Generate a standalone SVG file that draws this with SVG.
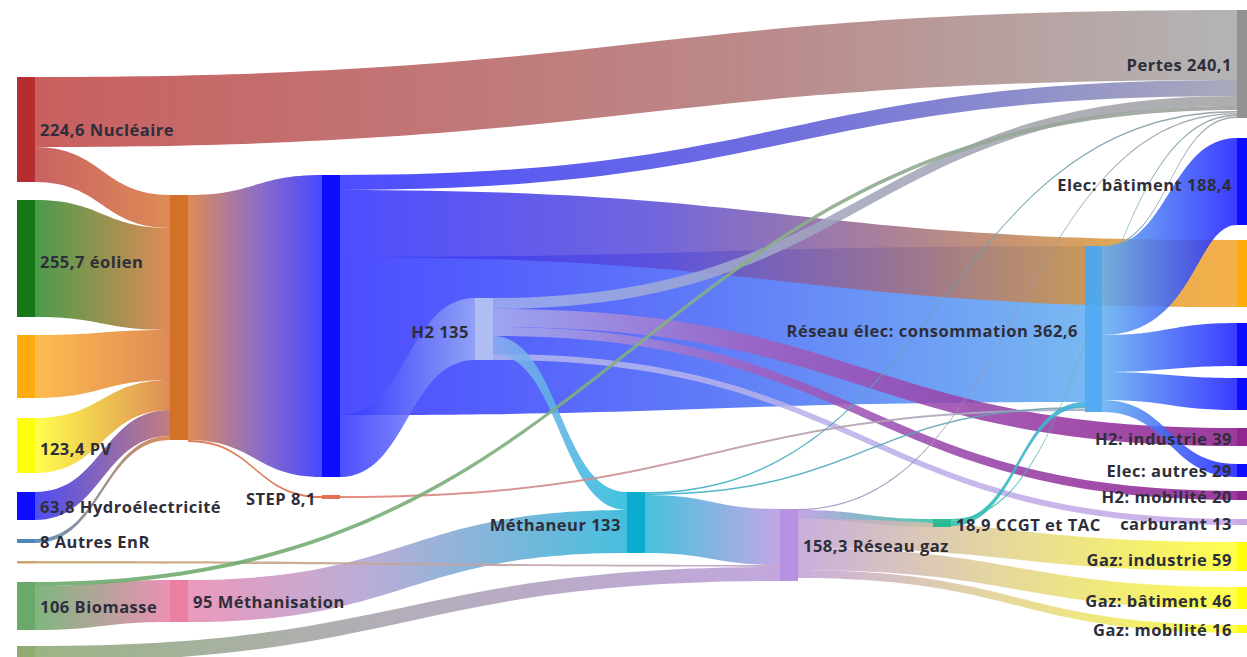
<svg xmlns="http://www.w3.org/2000/svg" width="1247" height="657" viewBox="0 0 1247 657">
<style>
.lk{fill-opacity:0.86}
.th{fill-opacity:0.9}
.nd{opacity:0.95}
.lbl{font-family:"Open Sans","Liberation Sans",sans-serif;font-weight:700;font-size:16.5px;letter-spacing:0.5px;fill:#2e2e3a}
.end{text-anchor:end}
</style>
<defs>
<linearGradient id="g1" gradientUnits="userSpaceOnUse" x1="35" y1="0" x2="1237" y2="0"><stop offset="0" stop-color="#c04545"/><stop offset="0.6" stop-color="#b07676"/><stop offset="1" stop-color="#a8a8a8"/></linearGradient>
<linearGradient id="g2" gradientUnits="userSpaceOnUse" x1="35" y1="0" x2="170" y2="0"><stop offset="0" stop-color="#c04848"/><stop offset="1" stop-color="#d8783a"/></linearGradient>
<linearGradient id="g3" gradientUnits="userSpaceOnUse" x1="35" y1="0" x2="170" y2="0"><stop offset="0" stop-color="#2e8a2e"/><stop offset="1" stop-color="#d8783a"/></linearGradient>
<linearGradient id="g4" gradientUnits="userSpaceOnUse" x1="35" y1="0" x2="170" y2="0"><stop offset="0" stop-color="#ffb030"/><stop offset="1" stop-color="#d8783a"/></linearGradient>
<linearGradient id="g5" gradientUnits="userSpaceOnUse" x1="35" y1="0" x2="170" y2="0"><stop offset="0" stop-color="#ffff30"/><stop offset="1" stop-color="#d8783a"/></linearGradient>
<linearGradient id="g6" gradientUnits="userSpaceOnUse" x1="35" y1="0" x2="170" y2="0"><stop offset="0" stop-color="#3030f0"/><stop offset="1" stop-color="#b86868"/></linearGradient>
<linearGradient id="g7" gradientUnits="userSpaceOnUse" x1="35" y1="0" x2="170" y2="0"><stop offset="0" stop-color="#4682b4"/><stop offset="1" stop-color="#d8783a"/></linearGradient>
<linearGradient id="g8" gradientUnits="userSpaceOnUse" x1="188" y1="0" x2="322" y2="0"><stop offset="0" stop-color="#d87838"/><stop offset="0.5" stop-color="#8058b8"/><stop offset="1" stop-color="#2a2aff"/></linearGradient>
<linearGradient id="g9" gradientUnits="userSpaceOnUse" x1="340" y1="0" x2="1085" y2="0"><stop offset="0" stop-color="#2f2fff"/><stop offset="0.5" stop-color="#4666f6"/><stop offset="1" stop-color="#62acf0"/></linearGradient>
<linearGradient id="g10" gradientUnits="userSpaceOnUse" x1="340" y1="0" x2="1237" y2="0"><stop offset="0" stop-color="#3030ff"/><stop offset="0.35" stop-color="#5a4cd8"/><stop offset="0.6" stop-color="#9a6a8a"/><stop offset="0.85" stop-color="#d8963e"/><stop offset="1" stop-color="#f5a52a"/></linearGradient>
<linearGradient id="g11" gradientUnits="userSpaceOnUse" x1="340" y1="0" x2="1237" y2="0"><stop offset="0" stop-color="#3030ff"/><stop offset="0.5" stop-color="#5858d8"/><stop offset="1" stop-color="#9c9cb0"/></linearGradient>
<linearGradient id="g12" gradientUnits="userSpaceOnUse" x1="340" y1="0" x2="475" y2="0"><stop offset="0" stop-color="#3030ff"/><stop offset="1" stop-color="#9aacf4"/></linearGradient>
<linearGradient id="g13" gradientUnits="userSpaceOnUse" x1="493" y1="0" x2="1237" y2="0"><stop offset="0" stop-color="#a0b0f0"/><stop offset="0.5" stop-color="#a0a4b8"/><stop offset="1" stop-color="#a0a0a0"/></linearGradient>
<linearGradient id="g14" gradientUnits="userSpaceOnUse" x1="493" y1="0" x2="1237" y2="0"><stop offset="0" stop-color="#a8b0f0"/><stop offset="0.35" stop-color="#a060c0"/><stop offset="1" stop-color="#8b1a8b"/></linearGradient>
<linearGradient id="g16" gradientUnits="userSpaceOnUse" x1="493" y1="0" x2="627" y2="0"><stop offset="0" stop-color="#90b0f0"/><stop offset="1" stop-color="#20b8d8"/></linearGradient>
<linearGradient id="g17" gradientUnits="userSpaceOnUse" x1="493" y1="0" x2="1237" y2="0"><stop offset="0" stop-color="#b0b8f0"/><stop offset="1" stop-color="#c4a4e4"/></linearGradient>
<linearGradient id="g18" gradientUnits="userSpaceOnUse" x1="35" y1="0" x2="170" y2="0"><stop offset="0" stop-color="#6aaa6a"/><stop offset="1" stop-color="#e87ea8"/></linearGradient>
<linearGradient id="g19" gradientUnits="userSpaceOnUse" x1="35" y1="0" x2="1237" y2="0"><stop offset="0" stop-color="#6aaa6a"/><stop offset="0.6" stop-color="#88b088"/><stop offset="1" stop-color="#a0a0a0"/></linearGradient>
<linearGradient id="g20" gradientUnits="userSpaceOnUse" x1="188" y1="0" x2="627" y2="0"><stop offset="0" stop-color="#e888b0"/><stop offset="0.4" stop-color="#b0a0d0"/><stop offset="1" stop-color="#28b4d8"/></linearGradient>
<linearGradient id="g21" gradientUnits="userSpaceOnUse" x1="35" y1="0" x2="780" y2="0"><stop offset="0" stop-color="#8aa870"/><stop offset="0.5" stop-color="#a8a0b0"/><stop offset="1" stop-color="#b898d8"/></linearGradient>
<linearGradient id="g22" gradientUnits="userSpaceOnUse" x1="35" y1="0" x2="780" y2="0"><stop offset="0" stop-color="#c8a870"/><stop offset="1" stop-color="#c0a0c8"/></linearGradient>
<linearGradient id="g23" gradientUnits="userSpaceOnUse" x1="188" y1="0" x2="340" y2="0"><stop offset="0" stop-color="#d87040"/><stop offset="1" stop-color="#e07050"/></linearGradient>
<linearGradient id="g24" gradientUnits="userSpaceOnUse" x1="340" y1="0" x2="1085" y2="0"><stop offset="0" stop-color="#e08070"/><stop offset="1" stop-color="#a0b0d0"/></linearGradient>
<linearGradient id="g25" gradientUnits="userSpaceOnUse" x1="645" y1="0" x2="780" y2="0"><stop offset="0" stop-color="#28b8d8"/><stop offset="1" stop-color="#b898e0"/></linearGradient>
<linearGradient id="g26" gradientUnits="userSpaceOnUse" x1="645" y1="0" x2="1237" y2="0"><stop offset="0" stop-color="#30b0c8"/><stop offset="1" stop-color="#909aa0"/></linearGradient>
<linearGradient id="g28" gradientUnits="userSpaceOnUse" x1="797" y1="0" x2="1237" y2="0"><stop offset="0" stop-color="#a090c0"/><stop offset="1" stop-color="#999999"/></linearGradient>
<linearGradient id="g29" gradientUnits="userSpaceOnUse" x1="797" y1="0" x2="933" y2="0"><stop offset="0" stop-color="#b898e0"/><stop offset="1" stop-color="#30c0a0"/></linearGradient>
<linearGradient id="g30" gradientUnits="userSpaceOnUse" x1="797" y1="0" x2="1237" y2="0"><stop offset="0" stop-color="#c0a0d8"/><stop offset="0.45" stop-color="#e0d090"/><stop offset="1" stop-color="#ffff30"/></linearGradient>
<linearGradient id="g33" gradientUnits="userSpaceOnUse" x1="951" y1="0" x2="1237" y2="0"><stop offset="0" stop-color="#30c0a8"/><stop offset="1" stop-color="#909aa0"/></linearGradient>
<linearGradient id="g34" gradientUnits="userSpaceOnUse" x1="951" y1="0" x2="1085" y2="0"><stop offset="0" stop-color="#30c0a8"/><stop offset="1" stop-color="#40b0e0"/></linearGradient>
<linearGradient id="g35" gradientUnits="userSpaceOnUse" x1="1102" y1="0" x2="1237" y2="0"><stop offset="0" stop-color="#70a8d0"/><stop offset="1" stop-color="#999999"/></linearGradient>
<linearGradient id="g36" gradientUnits="userSpaceOnUse" x1="1102" y1="0" x2="1237" y2="0"><stop offset="0" stop-color="#62b0f0"/><stop offset="1" stop-color="#1c1cff"/></linearGradient>
</defs>

<g id="connectors">
<path class="lk" fill="url(#g1)" d="M35 77 C636 77 636 10 1237 10 L1237 80 C636 80 636 147 35 147 Z"/>
<path class="lk" fill="url(#g2)" d="M35 147 C102.5 147 102.5 195 170 195 L170 228 C102.5 228 102.5 182 35 182 Z"/>
<path class="lk" fill="url(#g3)" d="M35 200 C102.5 200 102.5 228 170 228 L170 330 C102.5 330 102.5 317 35 317 Z"/>
<path class="lk" fill="url(#g4)" d="M35 335 C102.5 335 102.5 330 170 330 L170 380 C102.5 380 102.5 398 35 398 Z"/>
<path class="lk" fill="url(#g5)" d="M35 418 C102.5 418 102.5 380 170 380 L170 410 C102.5 410 102.5 473 35 473 Z"/>
<path class="lk" fill="url(#g6)" d="M35 492 C102.5 492 102.5 410 170 410 L170 436 C102.5 436 102.5 520 35 520 Z"/>
<path class="lk" fill="url(#g7)" d="M35 539 C102.5 539 102.5 436 170 436 L170 440 C102.5 440 102.5 543 35 543 Z"/>
<path class="lk" fill="url(#g8)" d="M188 195 C255 195 255 175 322 175 L322 477 C255 477 255 440 188 440 Z"/>
<path class="lk" fill="url(#g9)" d="M340 257 C712.5 257 712.5 246 1085 246 L1085 402 C712.5 402 712.5 415 340 415 Z"/>
<path class="lk" fill="url(#g10)" d="M340 190 C788.5 190 788.5 240 1237 240 L1237 307 C788.5 307 788.5 257 340 257 Z"/>
<path class="lk" fill="url(#g11)" d="M340 175 C788.5 175 788.5 80 1237 80 L1237 96 C788.5 96 788.5 190 340 190 Z"/>
<path class="lk" fill="url(#g12)" d="M340 415 C407.5 415 407.5 298 475 298 L475 360 C407.5 360 407.5 477 340 477 Z"/>
<path class="lk" fill="url(#g13)" d="M493 298 C865 298 865 96 1237 96 L1237 106 C865 106 865 309 493 309 Z"/>
<path class="lk" fill="url(#g14)" d="M493 309 C865 309 865 428 1237 428 L1237 446 C865 446 865 327 493 327 Z"/>
<path class="lk" fill="url(#g14)" d="M493 327 C865 327 865 491 1237 491 L1237 500 C865 500 865 336 493 336 Z"/>
<path class="lk" fill="url(#g17)" d="M493 354 C865 354 865 519 1237 519 L1237 525 C865 525 865 360 493 360 Z"/>
<path class="lk" fill="url(#g16)" d="M493 336 C560 336 560 492 627 492 L627 510 C560 510 560 354 493 354 Z"/>
<path class="lk" fill="url(#g18)" d="M35 586 C102.5 586 102.5 580 170 580 L170 622 C102.5 622 102.5 630 35 630 Z"/>
<path class="lk" fill="url(#g20)" d="M188 580 C407.5 580 407.5 510 627 510 L627 553 C407.5 553 407.5 622 188 622 Z"/>
<path class="lk" fill="url(#g21)" d="M35 646 C407.5 646 407.5 567 780 567 L780 581 C407.5 581 407.5 662 35 662 Z"/>
<path class="th" fill="url(#g22)" d="M35 561 C407.5 561 407.5 565 780 565 L780 567 C407.5 567 407.5 563.5 35 563.5 Z"/>
<path class="lk" fill="url(#g25)" d="M645 495 C712.5 495 712.5 509 780 509 L780 565 C712.5 565 712.5 553 645 553 Z"/>
<path class="lk" fill="url(#g29)" d="M797 510 C865 510 865 519 933 519 L933 527 C865 527 865 519 797 519 Z"/>
<path class="lk" fill="url(#g30)" d="M797 519 C1017 519 1017 542 1237 542 L1237 571 C1017 571 1017 548 797 548 Z"/>
<path class="lk" fill="url(#g30)" d="M797 548 C1017 548 1017 587 1237 587 L1237 609 C1017 609 1017 570 797 570 Z"/>
<path class="lk" fill="url(#g30)" d="M797 570 C1017 570 1017 625 1237 625 L1237 633 C1017 633 1017 578 797 578 Z"/>
<path class="lk" fill="url(#g36)" d="M1102 247 C1169.5 247 1169.5 138 1237 138 L1237 225 C1195 225 1195 335 1102 335 Z"/>
<path class="lk" fill="url(#g36)" d="M1102 335 C1169.5 335 1169.5 323 1237 323 L1237 366 C1169.5 366 1169.5 372 1102 372 Z"/>
<path class="lk" fill="url(#g36)" d="M1102 372 C1169.5 372 1169.5 378 1237 378 L1237 410 C1169.5 410 1169.5 400 1102 400 Z"/>
<path class="lk" fill="url(#g36)" d="M1102 400 C1169.5 400 1169.5 464 1237 464 L1237 477 C1169.5 477 1169.5 412 1102 412 Z"/>
<path class="th" fill="url(#g23)" d="M188 440 C255 440 255 496 322 496 L322 498 C255 498 255 442 188 442 Z"/>
<path class="th" fill="url(#g24)" d="M340 496 C712.5 496 712.5 409 1085 409 L1085 411 C712.5 411 712.5 498 340 498 Z"/>
<path class="th" fill="url(#g19)" d="M35 582 C636 582 636 106 1237 106 L1237 110 C636 110 636 586 35 586 Z"/>
<path class="th" fill="url(#g26)" d="M645 492 C941 492 941 111 1237 111 L1237 112.5 C941 112.5 941 493.5 645 493.5 Z"/>
<path class="th" fill="url(#g26)" d="M645 493.5 C865 493.5 865 407 1085 407 L1085 408.5 C865 408.5 865 495 645 495 Z"/>
<path class="th" fill="url(#g28)" d="M797 509 C1017 509 1017 113 1237 113 L1237 114.2 C1017 114.2 1017 510.2 797 510.2 Z"/>
<path class="th" fill="url(#g33)" d="M951 519 C1094 519 1094 114.5 1237 114.5 L1237 116 C1094 116 1094 520.5 951 520.5 Z"/>
<path class="th" fill="url(#g34)" d="M951 520.5 C1018 520.5 1018 402 1085 402 L1085 407 C1018 407 1018 526 951 526 Z"/>
<path class="th" fill="url(#g35)" d="M1102 246 C1169.5 246 1169.5 116.5 1237 116.5 L1237 118 C1169.5 118 1169.5 247.5 1102 247.5 Z"/>
</g>

<g id="node-nucleaire"><rect class="nd" x="17" y="77" width="18" height="105" fill="#b22222"/><text class="lbl" x="40" y="136">224,6 Nucléaire</text></g>
<g id="node-eolien"><rect class="nd" x="17" y="200" width="18" height="117" fill="#087008"/><text class="lbl" x="40" y="268">255,7 éolien</text></g>
<g id="node-orange-src"><rect class="nd" x="17" y="335" width="18" height="63" fill="#ffa500"/></g>
<g id="node-pv"><rect class="nd" x="17" y="418" width="18" height="55" fill="#ffff00"/><text class="lbl" x="40" y="455">123,4 PV</text></g>
<g id="node-hydro"><rect class="nd" x="17" y="492" width="18" height="28" fill="#0000ff"/><text class="lbl" x="40" y="513">63,8 Hydroélectricité</text></g>
<g id="node-autres"><rect class="nd" x="17" y="539" width="18" height="4" fill="#4682b4"/><text class="lbl" x="40" y="548">8 Autres EnR</text></g>
<g id="node-tan"><rect class="nd" x="17" y="561" width="18" height="2.5" fill="#c8a060"/></g>
<g id="node-biomasse"><rect class="nd" x="17" y="582" width="18" height="48" fill="#62a462"/><text class="lbl" x="40" y="613">106 Biomasse</text></g>
<g id="node-olive"><rect class="nd" x="17" y="646" width="18" height="11" fill="#8aa868"/></g>
<g id="node-prod"><rect class="nd" x="170" y="195" width="18" height="245" fill="#d2691e"/></g>
<g id="node-methanisation"><rect class="nd" x="170" y="580" width="18" height="42" fill="#e8789c"/><text class="lbl" x="193" y="608">95 Méthanisation</text></g>
<g id="node-reseau-prod"><rect class="nd" x="322" y="175" width="18" height="302" fill="#0000ff"/></g>
<g id="node-step"><rect class="nd" x="322" y="495" width="18" height="4" fill="#e06a48"/><text class="lbl end" x="316" y="505">STEP 8,1</text></g>
<g id="node-h2"><rect class="nd" x="475" y="298" width="18" height="62" fill="#b4c2f2"/><text class="lbl end" x="469" y="338">H2 135</text></g>
<g id="node-methaneur"><rect class="nd" x="627" y="492" width="18" height="61" fill="#00a8cc"/><text class="lbl end" x="621" y="531">Méthaneur 133</text></g>
<g id="node-reseau-gaz"><rect class="nd" x="780" y="509" width="18" height="72" fill="#b48ce0"/><text class="lbl" x="803" y="552">158,3 Réseau gaz</text></g>
<g id="node-ccgt"><rect class="nd" x="933" y="519" width="18" height="8" fill="#20b890"/><text class="lbl" x="956" y="531">18,9 CCGT et TAC</text></g>
<g id="node-reseau-elec"><rect class="nd" x="1085" y="246" width="17" height="166" fill="#4aa8f0"/><text class="lbl end" x="1078" y="337">Réseau élec: consommation 362,6</text></g>
<g id="node-pertes"><rect class="nd" x="1237" y="10" width="18" height="108" fill="#8c8c8c"/><text class="lbl end" x="1232" y="71">Pertes 240,1</text></g>
<g id="node-elec-batiment"><rect class="nd" x="1237" y="138" width="18" height="87" fill="#0000ff"/><text class="lbl end" x="1232" y="191">Elec: bâtiment 188,4</text></g>
<g id="node-orange-dst"><rect class="nd" x="1237" y="240" width="18" height="67" fill="#ffa500"/></g>
<g id="node-blue-1"><rect class="nd" x="1237" y="323" width="18" height="43" fill="#0000ff"/></g>
<g id="node-blue-2"><rect class="nd" x="1237" y="378" width="18" height="32" fill="#0000ff"/></g>
<g id="node-h2-industrie"><rect class="nd" x="1237" y="428" width="18" height="18" fill="#8b1a8b"/><text class="lbl end" x="1232" y="445">H2: industrie 39</text></g>
<g id="node-elec-autres"><rect class="nd" x="1237" y="464" width="18" height="13" fill="#0000ff"/><text class="lbl end" x="1232" y="477">Elec: autres 29</text></g>
<g id="node-h2-mobilite"><rect class="nd" x="1237" y="491" width="18" height="9" fill="#8b1a8b"/><text class="lbl end" x="1232" y="503">H2: mobilité 20</text></g>
<g id="node-carburant"><rect class="nd" x="1237" y="519" width="18" height="6" fill="#c4a4e4"/><text class="lbl end" x="1232" y="530">carburant 13</text></g>
<g id="node-gaz-industrie"><rect class="nd" x="1237" y="542" width="18" height="29" fill="#ffff00"/><text class="lbl end" x="1232" y="566">Gaz: industrie 59</text></g>
<g id="node-gaz-batiment"><rect class="nd" x="1237" y="587" width="18" height="22" fill="#ffff00"/><text class="lbl end" x="1232" y="607">Gaz: bâtiment 46</text></g>
<g id="node-gaz-mobilite"><rect class="nd" x="1237" y="625" width="18" height="8" fill="#ffff00"/><text class="lbl end" x="1232" y="636">Gaz: mobilité 16</text></g>
</svg>
